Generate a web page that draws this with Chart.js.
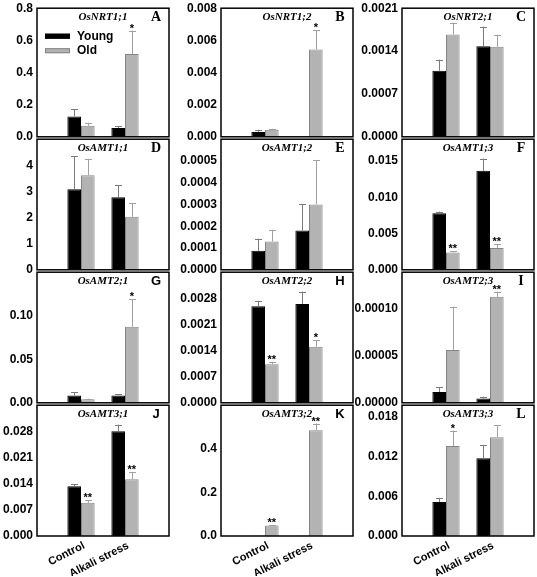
<!DOCTYPE html>
<html>
<head>
<meta charset="utf-8">
<script src="https://cdn.jsdelivr.net/npm/chart.js@4.4.1/dist/chart.umd.min.js"></script>
<style>
  body { margin: 0; background: #fff; }
  #wrap { position: relative; width: 537px; height: 577px; overflow: hidden; }
  #wrap canvas { position: absolute; }
</style>
</head>
<body>
<div id="wrap"></div>
<script>
// categories (blank ends keep the two groups at 1/3 and 2/3 of the box)
var groups = ["", "Control", "Alkali stress", ""];
var series = ["Young", "Old"];

var genes = ["OsNRT1;1", "OsNRT1;2", "OsNRT2;1",
             "OsAMT1;1", "OsAMT1;2", "OsAMT1;3",
             "OsAMT2;1", "OsAMT2;2", "OsAMT2;3",
             "OsAMT3;1", "OsAMT3;2", "OsAMT3;3"];
var letters = ["A", "B", "C", "D", "E", "F", "G", "H", "I", "J", "K", "L"];

// [control, alkali stress] for each panel
var youngMean = [[0.127, 0.055], [0.0003, 0.00002], [0.00108, 0.00148],
                 [3.08, 2.78], [0.000087, 0.00018], [0.0078, 0.01364],
                 [0.0085, 0.0085], [0.00259, 0.00265], [0.0000115, 0.0000045],
                 [0.0133, 0.028], [0.001, 0.001], [0.00514, 0.01177]];
var youngErr  = [[0.044, 0.013], [0.00014, 0], [0.00018, 0.00032],
                 [1.26, 0.47], [0.000056, 0.00012], [0.00022, 0.00168],
                 [0.0037, 0.0011], [0.00014, 0.00033], [0.0000052, 0.0000021],
                 [0.0006, 0.0018], [0, 0], [0.00065, 0.002]];
var oldMean   = [[0.068, 0.515], [0.00044, 0.00543], [0.00167, 0.00147],
                 [3.62, 2.03], [0.00013, 0.0003], [0.0024, 0.003],
                 [0.004, 0.0874], [0.00103, 0.0015], [0.0000563, 0.0001128],
                 [0.0089, 0.0152], [0.048, 0.485], [0.01362, 0.01496]];
var oldErr    = [[0.019, 0.145], [0.00006, 0.0012], [0.00019, 0.0002],
                 [0.63, 0.52], [0.000054, 0.000204], [0.00014, 0.00054],
                 [0.0008, 0.0316], [0.00007, 0.00017], [0.0000461, 0.0000056],
                 [0.0006, 0.0018], [0.003, 0.031], [0.00234, 0.0018]];
var oldStars  = [["", "*"], ["", "*"], ["", ""],
                 ["", ""], ["", ""], ["**", "**"],
                 ["", "*"], ["**", "*"], ["", "**"],
                 ["**", "**"], ["**", "**"], ["*", ""]];

var yMax = [0.8, 0.008, 0.0021, 5, 0.0006, 0.018, 0.15, 0.0035, 0.000139, 0.035, 0.6, 0.0198];
var yTicks = [["0.0", "0.2", "0.4", "0.6", "0.8"],
              ["0.000", "0.002", "0.004", "0.006", "0.008"],
              ["0.0000", "0.0007", "0.0014", "0.0021"],
              ["0", "1", "2", "3", "4"],
              ["0.0000", "0.0001", "0.0002", "0.0003", "0.0004", "0.0005"],
              ["0.000", "0.005", "0.010", "0.015"],
              ["0.00", "0.05", "0.10"],
              ["0.0000", "0.0007", "0.0014", "0.0021", "0.0028"],
              ["0.00000", "0.00005", "0.00010"],
              ["0.000", "0.007", "0.014", "0.021", "0.028"],
              ["0.0", "0.2", "0.4"],
              ["0.000", "0.006", "0.012", "0.018"]];

// layout of the grid
var plotL = [37, 221, 402];
var plotW = 132;
var rowTop = [7, 138, 271, 404];
var rowBot = [138, 271, 404, 536];
var axisW = 60;
var serifLetters = "ABCDEFIL";

Chart.defaults.font.family = "'Liberation Sans', Arial, sans-serif";
Chart.defaults.font.weight = "bold";
Chart.defaults.color = "#000";

function pad(pair) { return [null, pair[0], pair[1], null]; }

// box, title, letter, legend, error bars, stars and slanted group labels
var panelDecor = {
    id: "panelDecor",
    afterDatasetsDraw: function(chart, args, opts) {
        var ctx = chart.ctx;
        var y = chart.scales.y;
        var x = chart.scales.x;
        ctx.save();
        chart.data.datasets.forEach(function(ds, di) {
            var meta = chart.getDatasetMeta(di);
            ds.data.forEach(function(v, i) {
                if (v == null) return;
                var bar = meta.data[i];
                var e = ds.errors[i];
                var top = y.getPixelForValue(v + e);
                if (e > 0) {
                    ctx.strokeStyle = di == 0 ? "#7a7a7a" : "#a0a0a0";
                    ctx.lineWidth = 1;
                    ctx.beginPath();
                    ctx.moveTo(Math.round(bar.x) + 0.5, bar.y);
                    ctx.lineTo(Math.round(bar.x) + 0.5, top);
                    ctx.moveTo(Math.round(bar.x) - 3, Math.round(top) + 0.5);
                    ctx.lineTo(Math.round(bar.x) + 4, Math.round(top) + 0.5);
                    ctx.stroke();
                }
                if (ds.stars && ds.stars[i]) {
                    ctx.fillStyle = "#000";
                    ctx.font = "bold 11px 'Liberation Sans'";
                    ctx.textAlign = "center";
                    ctx.textBaseline = "alphabetic";
                    ctx.fillText(ds.stars[i], bar.x, top + 1);
                }
            });
        });
        var a = chart.chartArea;
        ctx.strokeStyle = "#000";
        ctx.lineWidth = 1.5;
        ctx.strokeRect(a.left, a.top, a.right - a.left, a.bottom - a.top);

        ctx.fillStyle = "#000";
        ctx.textAlign = "center";
        ctx.textBaseline = "middle";
        ctx.font = "italic bold 11px 'Liberation Serif'";
        ctx.fillText(opts.gene, (a.left + a.right) / 2, a.top + 9);
        ctx.font = opts.serif ? "bold 14px 'Liberation Serif'" : "bold 13px 'Liberation Sans'";
        ctx.fillText(opts.letter, a.right - 13, a.top + 9);

        if (opts.legend) {
            ctx.textAlign = "left";
            ctx.font = "bold 12px 'Liberation Sans'";
            chart.data.datasets.forEach(function(ds, di) {
                var ly = a.top + 28 + di * 14.5;
                ctx.fillStyle = ds.backgroundColor;
                ctx.fillRect(a.left + 8, ly - 2.5, 25, 5);
                ctx.strokeStyle = ds.borderColor;
                ctx.lineWidth = 1;
                ctx.strokeRect(a.left + 8.5, ly - 2, 24, 4);
                ctx.fillStyle = "#000";
                ctx.fillText(ds.label, a.left + 40, ly);
            });
        }

        if (opts.xLabels) {
            ctx.font = "bold 11px 'Liberation Sans'";
            ctx.textAlign = "right";
            ctx.textBaseline = "middle";
            chart.data.labels.forEach(function(lab, i) {
                if (!lab) return;
                var px = x.getPixelForValue(i) + 3;
                var py = a.bottom + 9;
                var ang = -27 * Math.PI / 180;
                ctx.setTransform(Math.cos(ang), Math.sin(ang), -Math.sin(ang), Math.cos(ang), px, py);
                ctx.fillText(lab, 0, 0);
                ctx.setTransform(1, 0, 0, 1, 0, 0);
            });
        }
        ctx.restore();
    }
};

var wrap = document.getElementById("wrap");
for (var p = 0; p < 12; p++) {
    var r = Math.floor(p / 3), c = p % 3;
    var last = r == 3;
    var plotH = rowBot[r] - rowTop[r];
    var xH = last ? 38 : 8;
    var cv = document.createElement("canvas");
    var w = axisW + plotW + 6;
    var h = 10 + plotH + xH + 2;
    cv.width = w; cv.height = h;
    cv.style.width = w + "px"; cv.style.height = h + "px";
    cv.style.left = (plotL[c] - axisW) + "px";
    cv.style.top = (rowTop[r] - 10) + "px";
    wrap.appendChild(cv);

    new Chart(cv, {
        type: "bar",
        data: {
            labels: groups,
            datasets: [
                {
                    label: series[0],
                    data: pad(youngMean[p]),
                    errors: pad(youngErr[p]),
                    backgroundColor: "#000000",
                    borderColor: "#000000",
                    borderWidth: 1
                },
                {
                    label: series[1],
                    data: pad(oldMean[p]),
                    errors: pad(oldErr[p]),
                    stars: pad(oldStars[p]),
                    backgroundColor: "#b3b3b3",
                    borderColor: "#858585",
                    borderWidth: 1
                }
            ]
        },
        options: {
            responsive: false,
            animation: false,
            events: [],
            layout: { padding: { left: 0, top: 10, right: 6, bottom: 2 } },
            datasets: { bar: { categoryPercentage: 0.62, barPercentage: 1.0 } },
            scales: {
                x: {
                    offset: false,
                    grid: { display: false, drawTicks: false },
                    border: { display: false },
                    ticks: { display: false },
                    afterFit: (function(hh) { return function(s) { s.height = hh; }; })(xH)
                },
                y: {
                    min: 0,
                    max: yMax[p],
                    grid: { display: false, drawTicks: false },
                    border: { display: false },
                    ticks: {
                        padding: 4,
                        font: { size: 12, weight: "bold" },
                        callback: (function(labs) {
                            return function(v, i) { return labs[i]; };
                        })(yTicks[p])
                    },
                    afterBuildTicks: (function(labs) {
                        return function(s) {
                            s.ticks = labs.map(function(t) { return { value: parseFloat(t) }; });
                        };
                    })(yTicks[p]),
                    afterFit: function(s) { s.width = axisW; }
                }
            },
            plugins: {
                legend: { display: false },
                tooltip: { enabled: false },
                panelDecor: {
                    gene: genes[p],
                    letter: letters[p],
                    serif: serifLetters.indexOf(letters[p]) >= 0,
                    legend: p == 0,
                    xLabels: last
                }
            }
        },
        plugins: [panelDecor]
    });
}
</script>
</body>
</html>
